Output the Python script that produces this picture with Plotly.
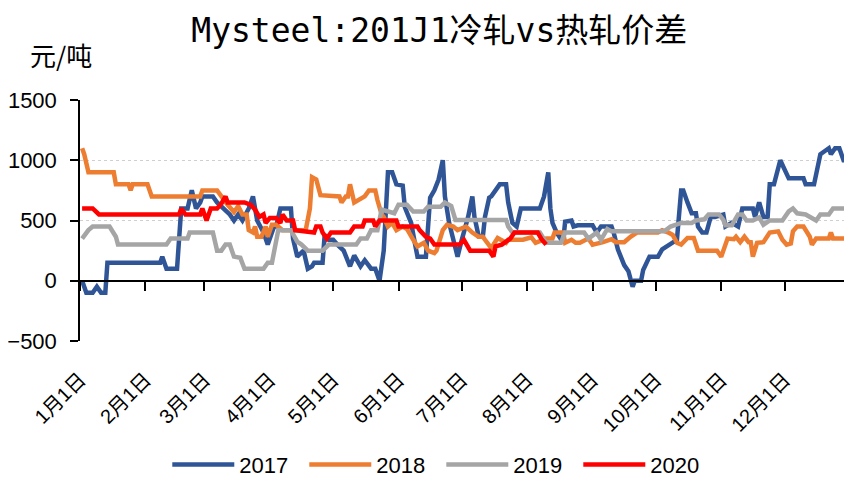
import pandas as pd
import plotly.graph_objects as go

# day offsets from 1 Jan and spread values (元/吨)
days_2017 = [1, 3, 6, 8, 10, 12, 13, 38, 39, 41, 46, 48, 51, 53, 55, 57, 58, 63, 65, 68,
             71, 73, 75, 77, 80, 82, 84, 87, 89, 92, 93, 95, 100, 101, 103, 106, 108, 110,
             111, 115, 116, 118, 120, 122, 125, 128, 130, 133, 135, 138, 140, 142, 144,
             146, 148, 150, 153, 154, 157, 159, 160, 164, 165, 166, 168, 170, 172, 173,
             175, 177, 179, 181, 184, 186, 187, 189, 191, 192, 194, 195, 197, 199, 202,
             203, 205, 207, 209, 218, 220, 222, 223, 224, 226, 229, 230, 233, 234, 236,
             243, 245, 247, 252, 253, 255, 258, 260, 262, 263, 266, 267, 270, 274, 276,
             280, 283, 285, 286, 288, 290, 292, 293, 295, 297, 299, 301, 305, 306, 309,
             312, 314, 319, 320, 322, 324, 326, 327, 329, 332, 335, 336, 343, 344, 348,
             349, 351, 355, 356, 358, 360, 362, 364]
vals_2017 = [0, -100, -100, -50, -100, -100, 150, 150, 200, 100, 100, 600, 600, 750, 600,
             650, 700, 700, 650, 600, 550, 500, 550, 500, 600, 700, 500, 400, 300, 450,
             450, 600, 600, 350, 200, 250, 100, 120, 150, 150, 380, 340, 340, 300, 250,
             120, 210, 120, 170, 100, 100, 0, 250, 900, 900, 800, 790, 610, 480, 290, 200,
             200, 420, 690, 750, 840, 1000, 700, 480, 340, 200, 340, 530, 700, 530, 370,
             370, 530, 690, 700, 750, 800, 800, 650, 480, 450, 600, 600, 700, 900, 600,
             480, 400, 320, 490, 500, 450, 460, 460, 400, 450, 450, 400, 260, 130, 80,
             -50, 0, 0, 90, 200, 200, 260, 300, 340, 750, 750, 650, 560, 560, 450, 400,
             400, 530, 530, 550, 450, 480, 450, 600, 600, 530, 650, 530, 530, 800, 800,
             1000, 900, 850, 850, 800, 800, 900, 1050, 1100, 1050, 1100, 1100, 1000, 1000]

days_2018 = [1, 2, 4, 16, 17, 23, 24, 25, 32, 34, 57, 58, 65, 67, 70, 73, 75, 77, 79, 80,
             82, 83, 84, 86, 88, 89, 91, 93, 96, 107, 109, 110, 112, 114, 123, 124, 126,
             127, 128, 130, 135, 137, 140, 141, 143, 144, 146, 148, 150, 153, 155, 158,
             160, 163, 165, 168, 169, 172, 174, 177, 179, 183, 186, 189, 191, 192, 195,
             196, 198, 202, 203, 206, 210, 214, 216, 221, 224, 225, 229, 230, 233, 235,
             237, 241, 243, 248, 252, 254, 258, 261, 264, 274, 276, 279, 281, 283, 285,
             288, 291, 293, 302, 304, 306, 307, 310, 311, 313, 315, 317, 318, 319, 321,
             324, 327, 331, 333, 335, 337, 338, 340, 343, 346, 347, 349, 355, 356, 357,
             364]
vals_2018 = [1100, 1050, 900, 900, 800, 800, 750, 800, 800, 700, 700, 750, 750, 700, 630,
             570, 620, 550, 550, 420, 400, 450, 365, 365, 450, 365, 465, 465, 420, 420,
             600, 860, 840, 710, 700, 650, 700, 700, 800, 650, 700, 750, 750, 670, 550,
             530, 450, 480, 420, 450, 430, 340, 285, 315, 250, 230, 250, 420, 465, 450,
             420, 450, 400, 365, 365, 340, 270, 300, 355, 315, 340, 340, 340, 360, 315,
             350, 350, 400, 400, 315, 340, 315, 315, 350, 300, 320, 345, 320, 320, 365,
             400, 400, 420, 400, 380, 315, 300, 355, 355, 250, 250, 200, 300, 350, 345,
             365, 320, 365, 320, 320, 200, 315, 320, 400, 410, 340, 300, 310, 410, 450,
             450, 365, 300, 350, 350, 400, 350, 350]

days_2019 = [1, 4, 6, 14, 17, 18, 41, 43, 51, 52, 63, 65, 67, 69, 71, 73, 76, 78, 87, 89,
             91, 93, 94, 100, 103, 105, 108, 115, 118, 127, 131, 133, 136, 138, 141, 143,
             146, 149, 151, 155, 158, 163, 165, 171, 173, 176, 178, 202, 203, 205, 218,
             221, 228, 230, 239, 241, 245, 247, 250, 252, 277, 280, 285, 290, 292, 296,
             298, 303, 305, 306, 309, 312, 314, 316, 319, 322, 324, 327, 333, 336, 338,
             340, 344, 347, 349, 351, 355, 357, 364]
vals_2019 = [350, 420, 450, 450, 365, 300, 300, 350, 350, 400, 400, 250, 250, 300, 300,
             200, 190, 100, 100, 150, 150, 365, 420, 420, 325, 300, 250, 250, 300, 300,
             300, 350, 350, 420, 420, 590, 575, 560, 630, 630, 575, 575, 615, 615, 650,
             620, 505, 505, 450, 400, 400, 315, 315, 400, 400, 350, 400, 340, 430, 410,
             410, 450, 480, 480, 500, 510, 550, 550, 505, 460, 460, 550, 550, 500, 500,
             525, 465, 500, 500, 575, 600, 560, 550, 525, 500, 550, 550, 600, 600]

days_2020 = [1, 6, 9, 47, 48, 50, 57, 58, 60, 62, 65, 67, 69, 70, 78, 81, 83, 85, 87, 88,
             90, 93, 95, 96, 98, 101, 102, 111, 112, 114, 115, 117, 119, 128, 130, 134,
             135, 139, 140, 142, 150, 151, 160, 161, 164, 166, 168, 180, 182, 184, 185,
             194, 196, 197, 200, 204, 206, 217, 219, 221]
vals_2020 = [600, 600, 550, 550, 600, 550, 550, 600, 500, 600, 600, 640, 700, 650, 650,
             630, 590, 530, 550, 480, 520, 520, 480, 550, 500, 500, 420, 400, 450, 450,
             400, 350, 400, 400, 450, 450, 500, 500, 450, 500, 500, 450, 450, 420, 365,
             350, 300, 300, 340, 285, 250, 250, 200, 285, 300, 350, 400, 400, 340, 300]

month_starts = pd.date_range("2017-01-01", "2018-01-01", freq="MS")
month_labels = [f"{m}月1日" for m in range(1, 13)]

base = pd.Timestamp("2017-01-01")


def to_dates(days):
    return base + pd.to_timedelta(days, unit="D")


series = [
    ("2017", days_2017, vals_2017, "#2F5597"),
    ("2018", days_2018, vals_2018, "#ED7D31"),
    ("2019", days_2019, vals_2019, "#A5A5A5"),
    ("2020", days_2020, vals_2020, "#FF0000"),
]

fig = go.Figure()
for name, d, v, color in series:
    fig.add_trace(go.Scatter(
        x=to_dates(d), y=v, mode="lines", name=name,
        line=dict(color=color, width=4.5),
    ))

# empty trace so the zero-line axis (with its ticks) gets drawn
fig.add_trace(go.Scatter(x=[], y=[], xaxis="x2", showlegend=False, hoverinfo="skip"))

x_range = [base, pd.Timestamp("2018-01-02")]
cn_font = "Liberation Sans, Noto Sans CJK SC, sans-serif"

# page body adds an 8px margin, so the figure is 8px smaller than the window
fig.update_layout(
    width=844, height=478,
    margin=dict(l=72, r=0, t=92, b=145, autoexpand=False),
    paper_bgcolor="white", plot_bgcolor="white",
    font=dict(family=cn_font, size=22, color="black"),
    title=dict(
        text="Mysteel:201J1冷轧vs热轧价差",
        x=0.511, xanchor="center", y=0.954, yanchor="middle",
        font=dict(family="DejaVu Sans Mono, Noto Sans CJK SC, monospace", size=33, color="black"),
    ),
    xaxis=dict(
        type="date", range=x_range, automargin=False,
        tickvals=month_starts[:12], ticktext=month_labels,
        tickangle=-45, ticks="", showline=False, showgrid=False, zeroline=False,
        tickfont=dict(size=20, family=cn_font), ticklabelstandoff=22,
    ),
    xaxis2=dict(
        type="date", overlaying="x", matches="x", anchor="free", position=0.25,
        range=x_range, tickvals=month_starts, showticklabels=False, automargin=False,
        ticks="outside", ticklen=9, tickwidth=1.5, tickcolor="black",
        showline=True, linecolor="black", linewidth=1.5, showgrid=False, zeroline=False,
    ),
    yaxis=dict(
        range=[-500, 1500], dtick=500, tick0=0, automargin=False,
        showline=True, linecolor="black", linewidth=1.5,
        ticks="outside", ticklen=8, tickwidth=1.5, tickcolor="black",
        showgrid=True, gridcolor="#cfcfcf", griddash="dot", gridwidth=1,
        zeroline=False, tickfont=dict(size=22), ticklabelstandoff=9,
    ),
    legend=dict(
        orientation="h", x=0.468, xanchor="center", y=-0.600, yanchor="bottom",
        font=dict(size=22), itemwidth=62, entrywidth=60, entrywidthmode="pixels",
        bgcolor="rgba(0,0,0,0)",
    ),
    annotations=[dict(
        text="元/吨", xref="paper", yref="paper", x=-0.0246, y=1.187,
        xanchor="center", yanchor="middle", showarrow=False,
        font=dict(size=26, family="Noto Sans CJK SC"),
    )],
)

fig.write_html("out.html")
